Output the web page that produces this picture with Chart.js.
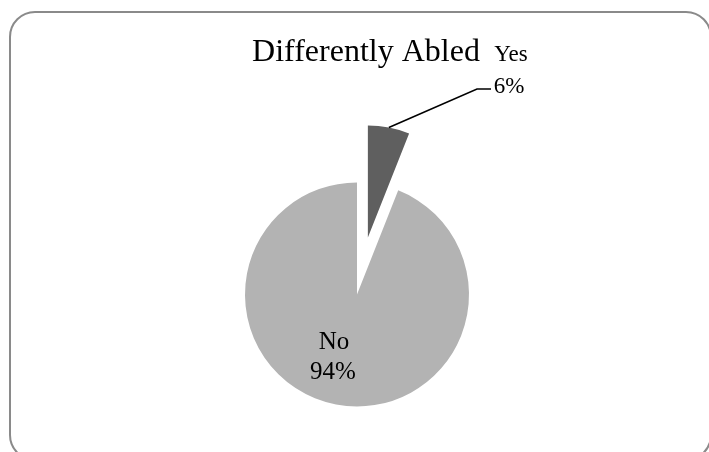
<!DOCTYPE html>
<html>
<head>
<meta charset="utf-8">
<script src="https://cdn.jsdelivr.net/npm/chart.js@4"></script>
<style>
  html, body { margin: 0; padding: 0; background: #fff; overflow: hidden; }
  #wrap { position: relative; width: 709px; height: 452px; overflow: hidden; }
  #frame {
    position: absolute; left: 9px; top: 11px; width: 703px; height: 450px;
    border: 2px solid #8a8a8a; border-radius: 26px; box-sizing: border-box;
  }
  #myChart { position: absolute; left: 0; top: 0; }
</style>
</head>
<body>
<div id="wrap">
  <div id="frame"></div>
  <canvas id="myChart" width="709" height="452"></canvas>
</div>
<script>
// Dados
var categories = ['Yes', 'No'];
var shares = [6, 94];
var sliceColors = ['#5f5f5f', '#b3b3b3'];
var chartTitle = 'Differently Abled';

var serif = '"Liberation Serif", "Times New Roman", serif';
var explode = 58; // afastamento da fatia "Yes"

// Afasta a primeira fatia do centro, ao longo da bissetriz
var explodePlugin = {
    id: 'explode',
    afterDatasetUpdate: function (chart) {
        var arc = chart.getDatasetMeta(0).data[0];
        var mid = (arc.startAngle + arc.endAngle) / 2;
        arc.x += Math.cos(mid) * explode;
        arc.y += Math.sin(mid) * explode;
    }
};

// Título e rótulos das fatias
var labelsPlugin = {
    id: 'pieLabels',
    afterDraw: function (chart) {
        var ctx = chart.ctx;
        var arcs = chart.getDatasetMeta(0).data;
        ctx.save();
        ctx.fillStyle = '#000';
        ctx.textAlign = 'center';
        ctx.textBaseline = 'alphabetic';

        ctx.font = '32px ' + serif;
        ctx.fillText(chartTitle, 366, 61);

        // rótulo "Yes" com linha de chamada
        var yes = arcs[0];
        var mid = (yes.startAngle + yes.endAngle) / 2;
        var ex = yes.x + Math.cos(mid) * yes.outerRadius;
        var ey = yes.y + Math.sin(mid) * yes.outerRadius;
        ctx.strokeStyle = '#000';
        ctx.lineWidth = 1.6;
        ctx.beginPath();
        ctx.moveTo(ex, ey);
        ctx.lineTo(477, 89);
        ctx.lineTo(491, 89);
        ctx.stroke();
        ctx.font = '23px ' + serif;
        ctx.fillText(categories[0], 511, 61);
        ctx.fillText(shares[0] + '%', 509, 93);

        // rótulo "No" dentro da fatia
        ctx.font = '25px ' + serif;
        ctx.fillText(categories[1], 334, 349);
        ctx.fillText(shares[1] + '%', 333, 379);
        ctx.restore();
    }
};

var config = {
    type: 'pie',
    data: {
        labels: categories,
        datasets: [{
            data: shares,
            backgroundColor: sliceColors,
            borderWidth: 0
        }]
    },
    options: {
        responsive: false,
        animation: false,
        events: [],
        radius: 112,
        layout: { padding: { left: 5, right: 0, top: 137, bottom: 0 } },
        plugins: {
            legend: { display: false },
            title: { display: false },
            tooltip: { enabled: false }
        }
    },
    plugins: [explodePlugin, labelsPlugin]
};

var ctx = document.getElementById('myChart').getContext('2d');
new Chart(ctx, config);
</script>
</body>
</html>
